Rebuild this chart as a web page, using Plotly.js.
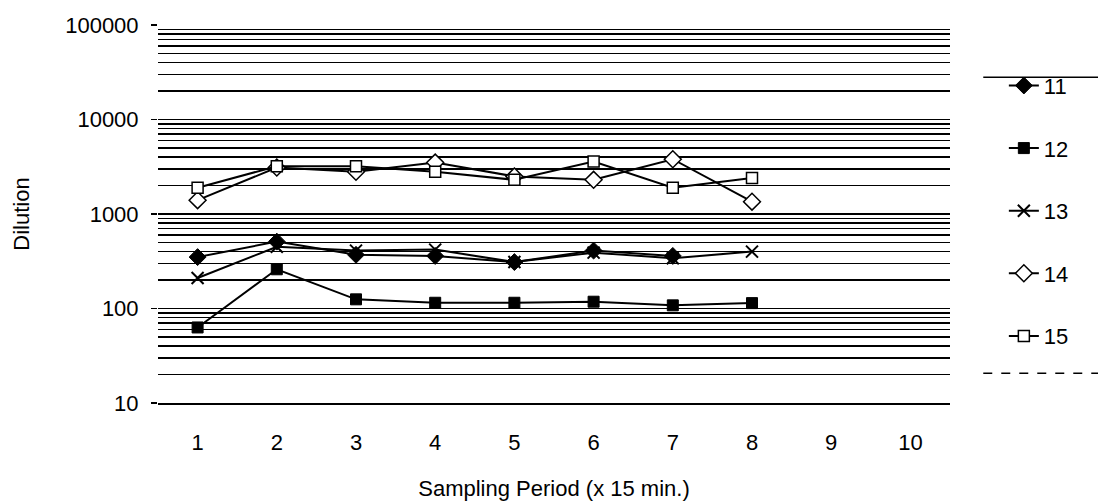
<!DOCTYPE html>
<html>
<head>
<meta charset="utf-8">
<script src="https://cdn.plot.ly/plotly-3.0.1.min.js"></script>
<style>html,body{margin:0;padding:0;background:#fff;}#chart{width:1098px;height:504px;}</style>
</head>
<body>
<div id="chart"></div>
<script>
var periods = [1, 2, 3, 4, 5, 6, 7, 8];
var tickLabels = ["1","2","3","4","5","6","7","8","9","10"];
var tickPositions = [1,2,3,4,5,6,7,8,9,10];
var seriesNames = ["11", "12", "13", "14", "15"];
var s11 = [350, 510, 370, 360, 310, 410, 360];
var s12 = [63, 260, 125, 115, 115, 118, 108, 114];
var s13 = [210, 450, 410, 420, 310, 390, 340, 400];
var s14 = [1400, 3100, 2800, 3500, 2500, 2300, 3800, 1350];
var s15 = [1900, 3200, 3200, 2800, 2300, 3600, 1900, 2400];

var FONT = "Liberation Sans, Arial, sans-serif";
var line = {color: "black", width: 2};
function tr(name, y, marker) {
  return {
    x: periods.slice(0, y.length), y: y, name: name, legendgroup: name,
    type: "scatter", mode: "lines+markers",
    line: line, marker: marker
  };
}
var data = [
  tr(seriesNames[0], s11, {symbol: "diamond", size: 13, color: "black", line: {color: "black", width: 1}}),
  tr(seriesNames[1], s12, {symbol: "square", size: 11, color: "black", line: {color: "black", width: 1}}),
  tr(seriesNames[2], s13, {symbol: "x-thin-open", size: 12, color: "black", line: {color: "black", width: 2}}),
  tr(seriesNames[3], s14, {symbol: "diamond", size: 13, color: "white", line: {color: "black", width: 1.5}}),
  tr(seriesNames[4], s15, {symbol: "square", size: 11, color: "white", line: {color: "black", width: 1.5}})
];

var layout = {
  width: 1098, height: 504,
  margin: {l: 158, r: 148, t: 25, b: 101},
  paper_bgcolor: "white", plot_bgcolor: "white",
  font: {family: FONT, color: "black", size: 22},
  showlegend: true,
  legend: {x: 1.068, xanchor: "left", y: 0.895, yanchor: "top",
           font: {size: 22, family: FONT}, tracegroupgap: 31,
           bgcolor: "rgba(0,0,0,0)", borderwidth: 0},
  xaxis: {
    range: [0.5, 10.5], tickvals: tickPositions, ticktext: tickLabels,
    showgrid: false, zeroline: false, showline: true, linecolor: "black", linewidth: 1.5,
    ticks: "", tickfont: {size: 22}, ticklabelstandoff: 19,
    title: {text: "Sampling Period (x 15 min.)", font: {size: 22}, standoff: 26}
  },
  yaxis: {
    type: "log", range: [1, 5], dtick: 1, tickformat: "d",
    showgrid: true, gridcolor: "black", gridwidth: 1.5,
    ticks: "outside", ticklen: 6, tickcolor: "black", tickwidth: 1.5,
    showline: false, zeroline: false, tickfont: {size: 22}, ticklabelstandoff: 8,
    minor: {dtick: "D1", showgrid: true, gridcolor: "black", gridwidth: 1.5, ticks: ""},
    title: {text: "Dilution", font: {size: 22}, standoff: 29}
  },
  shapes: [
    {type: "line", xref: "paper", yref: "paper", x0: 1.042, x1: 1.19, y0: 0.862, y1: 0.862, line: {color: "black", width: 1.5}},
    {type: "line", xref: "paper", yref: "paper", x0: 1.042, x1: 1.19, y0: 0.079, y1: 0.079, line: {color: "black", width: 1.5, dash: "dash"}}
  ]
};
Plotly.newPlot("chart", data, layout, {displayModeBar: false, staticPlot: true});
</script>
</body>
</html>
